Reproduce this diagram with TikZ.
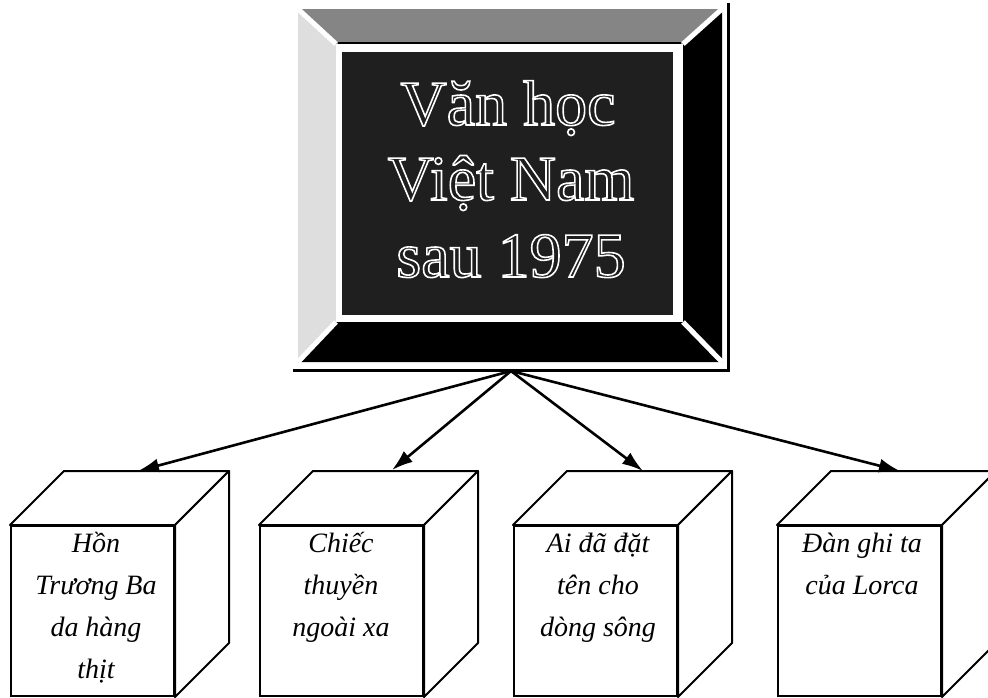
\documentclass[tikz,border=0pt]{standalone}
\usepackage{fontspec}
\setmainfont{Liberation Serif}
\usetikzlibrary{arrows.meta}
\newcommand{\hollow}[1]{\special{pdf:literal direct 1 Tr 1.6 w}#1\special{pdf:literal direct 0 Tr}}
\tikzset{
  frontface/.style={draw=black, line width=2pt, fill=white, minimum width=163pt, minimum height=170pt, anchor=north west, inner sep=0pt},
  sideface/.style={draw=black, line width=2pt, fill=white, line join=round},
  cubetext/.style={font=\itshape\fontsize{28}{42}\selectfont, align=center, anchor=base, inner sep=0pt},
  titletext/.style={font=\fontsize{64}{76}\selectfont, anchor=base, inner sep=0pt, text=white},
  link/.style={line width=2.6pt, -{Latex[length=21pt,width=14pt]}},
}
\newcommand{\cubesides}[1]{%
  \draw[sideface] (#1.north west) -- ++(54,-54) -- ([shift={(54,-54)}]#1.north east) -- (#1.north east) -- cycle;
  \draw[sideface] (#1.north east) -- ++(54,-54) -- ([shift={(54,-54)}]#1.south east) -- (#1.south east) -- cycle;
}
\begin{document}
\begin{tikzpicture}[x=1pt,y=-1pt]
\useasboundingbox (0,0) rectangle (988,697);
% ---- title frame ----
\coordinate (otl) at (298,9);
\coordinate (otr) at (722,9);
\coordinate (obr) at (722,362);
\coordinate (obl) at (298,362);
\coordinate (itl) at (336,44);
\coordinate (itr) at (683,44);
\coordinate (ibr) at (683,322);
\coordinate (ibl) at (336,322);
\fill[black!48] (otl) -- (otr) -- (itr) -- (itl) -- cycle;
\fill[black!13] (otl) -- (itl) -- (ibl) -- (obl) -- cycle;
\fill[black] (otr) -- (obr) -- (ibr) -- (itr) -- cycle;
\fill[black] (obl) -- (ibl) -- (ibr) -- (obr) -- cycle;
\draw[black, line width=2pt] (338,43) -- (681,43);
\fill[white] (itl) rectangle (ibr);
\draw[white, line width=5pt] (otl) -- (itl) (otr) -- (itr) (obr) -- (ibr) (obl) -- (ibl);
\node[fill=black!88, minimum width=331pt, minimum height=263pt, inner sep=0pt, anchor=north west] (inner) at (342,52) {};
\draw[black, line width=3pt] (293,370) -- (729,370);
\draw[black, line width=3pt] (728,3) -- (728,371.5);
\node[titletext] (t1) at (508,125) {\hollow{Văn học}};
\node[titletext] (t2) at (511,200) {\hollow{Việt Nam}};
\node[titletext] (t3) at (511,277) {\hollow{sau 1975}};
\coordinate (src) at (511,371);
% ---- cubes ----
\node[frontface] (c1) at (10,525) {};
\cubesides{c1}
\node[frontface] (c2) at (259,525) {};
\cubesides{c2}
\node[frontface] (c3) at (513,525) {};
\cubesides{c3}
\node[frontface] (c4) at (777,525) {};
\cubesides{c4}
\node[cubetext] (l1) at (96,678) {Hồn\\Trương Ba\\da hàng\\thịt};
\node[cubetext] (l2) at (341,636) {Chiếc\\thuyền\\ngoài xa};
\node[cubetext] (l3) at (598,636) {Ai đã đặt\\tên cho\\dòng sông};
\node[cubetext] (l4) at (862,594) {Đàn ghi ta\\của Lorca};
% ---- arrows ----
\coordinate (a1) at (138,471);
\coordinate (a2) at (392,470);
\coordinate (a3) at (643,471);
\coordinate (a4) at (900,471);
\draw[link] (src) -- (a1);
\draw[link] (src) -- (a2);
\draw[link] (src) -- (a3);
\draw[link] (src) -- (a4);
\end{tikzpicture}
\end{document}
